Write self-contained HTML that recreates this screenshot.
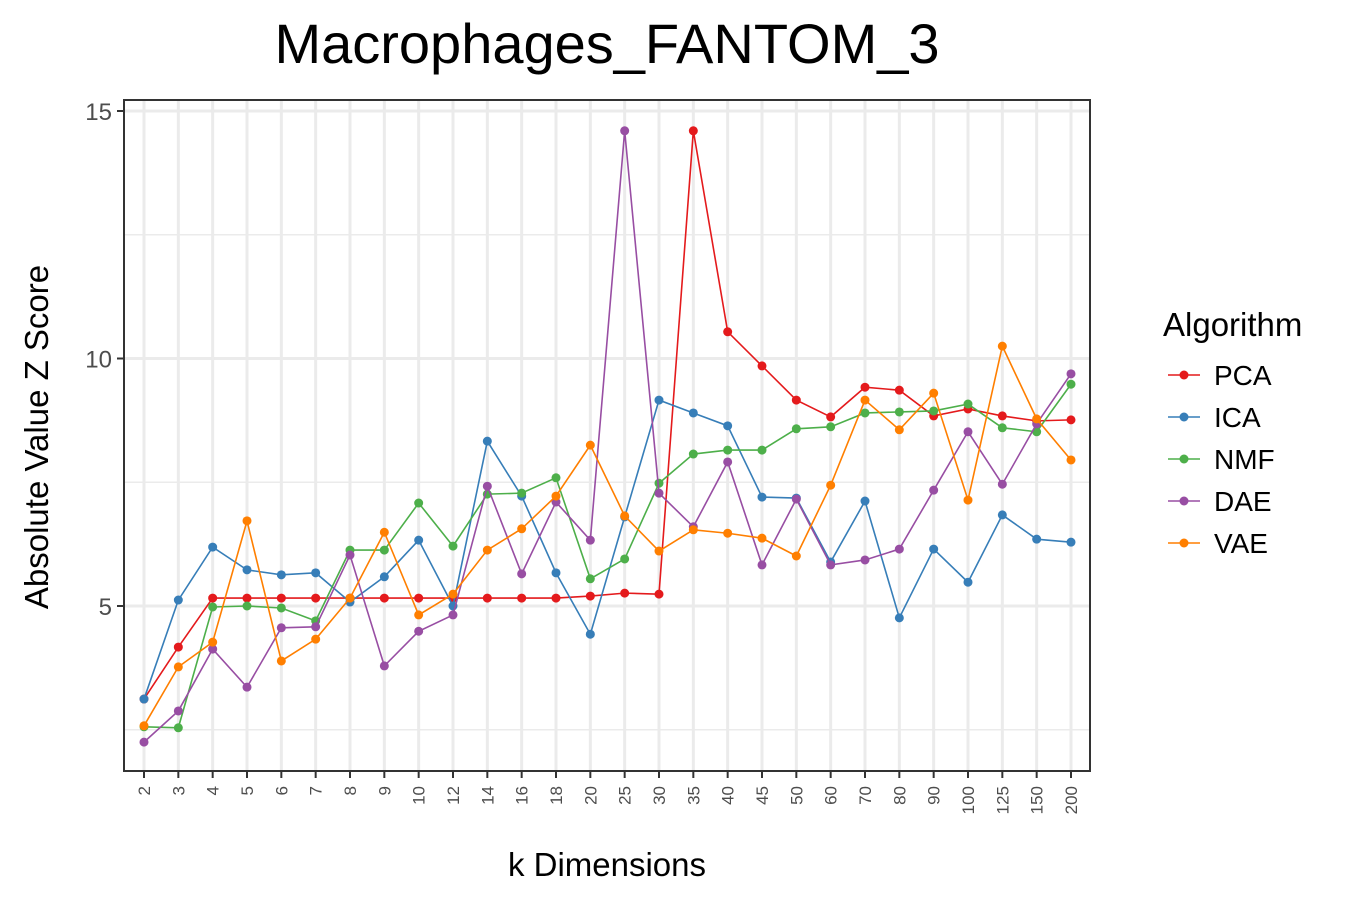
<!DOCTYPE html>
<html><head><meta charset="utf-8"><style>
body{margin:0;background:#fff;font-family:"Liberation Sans",Arial,sans-serif}
svg text{font-family:"Liberation Sans",Arial,sans-serif}
</style></head><body>
<svg id="chart" width="1350" height="900" viewBox="0 0 1350 900" xmlns="http://www.w3.org/2000/svg">
<rect width="1350" height="900" fill="#fff"/>
<text x="607" y="63" font-size="56" text-anchor="middle" fill="#000">Macrophages_FANTOM_3</text>
<g id="grid"></g>
<g id="series"></g>
<rect x="124" y="100" width="966" height="671" fill="none" stroke="#333" stroke-width="2"/>
<g id="axes"></g>
<text transform="translate(48,437) rotate(-90)" font-size="33" text-anchor="middle" fill="#000">Absolute Value Z Score</text>
<text x="607" y="876" font-size="33" text-anchor="middle" fill="#000">k Dimensions</text>
<g id="legend">
<text x="1163" y="336" font-size="33" fill="#000">Algorithm</text>
</g>
</svg>
<script>
const categories=["2","3","4","5","6","7","8","9","10","12","14","16","18","20","25","30","35","40","45","50","60","70","80","90","100","125","150","200"];
const pca=[3.12,4.17,5.16,5.16,5.16,5.16,5.16,5.16,5.16,5.16,5.16,5.16,5.16,5.2,5.26,5.24,14.6,10.54,9.85,9.16,8.82,9.42,9.36,8.84,8.98,8.84,8.74,8.76];
const ica=[3.12,5.12,6.19,5.73,5.63,5.67,5.08,5.59,6.33,5.0,8.33,7.22,5.67,4.43,6.8,9.16,8.9,8.64,7.2,7.18,5.89,7.12,4.76,6.15,5.48,6.84,6.35,6.29];
const nmf=[2.56,2.54,4.98,5.0,4.96,4.7,6.13,6.13,7.08,6.21,7.26,7.28,7.59,5.55,5.95,7.48,8.07,8.15,8.15,8.58,8.62,8.9,8.92,8.94,9.08,8.6,8.52,9.48];
const dae=[2.25,2.88,4.13,3.36,4.56,4.58,6.03,3.79,4.49,4.82,7.42,5.65,7.1,6.33,14.6,7.28,6.6,7.91,5.83,7.16,5.83,5.93,6.15,7.34,8.52,7.46,8.68,9.69];
const vae=[2.58,3.77,4.27,6.72,3.89,4.33,5.16,6.49,4.82,5.24,6.13,6.56,7.22,8.25,6.82,6.11,6.54,6.47,6.37,6.01,7.44,9.16,8.56,9.3,7.14,10.25,8.78,7.95];
const seriesNames=["PCA","ICA","NMF","DAE","VAE"];
const yMajor=[5,10,15];
const yMinor=[2.5,7.5,12.5];
const ns="http://www.w3.org/2000/svg";
const colors=["#e41a1c","#377eb8","#4daf4a","#984ea3","#ff7f00"];
const allSeries=[pca,ica,nmf,dae,vae];
const xS=i=>144+i*(1071-144)/(categories.length-1);
const yS=v=>606-(v-5)*49.5;
function mk(tag,attrs,parent){const e=document.createElementNS(ns,tag);for(const k in attrs)e.setAttribute(k,attrs[k]);parent.appendChild(e);return e;}
const grid=document.getElementById('grid'),ser=document.getElementById('series'),axes=document.getElementById('axes'),leg=document.getElementById('legend');
yMinor.forEach(v=>{const l=mk('line',{x1:124,x2:1090,y1:yS(v),y2:yS(v),stroke:'#ebebeb','stroke-width':1.5},grid);

});
yMajor.forEach(v=>{const l=mk('line',{x1:124,x2:1090,y1:yS(v),y2:yS(v),stroke:'#ebebeb','stroke-width':3},grid);


const t=mk('line',{x1:117,x2:124,y1:yS(v),y2:yS(v),stroke:'#333','stroke-width':2},axes);


const tx=mk('text',{x:112,y:yS(v)+9,'font-size':24,'text-anchor':'end',fill:'#4d4d4d'},axes);tx.textContent=v;

});
categories.forEach((c,i)=>{const x=xS(i);
const l=mk('line',{x1:x,x2:x,y1:100,y2:771,stroke:'#ebebeb','stroke-width':3},grid);


const t=mk('line',{x1:x,x2:x,y1:771,y2:778,stroke:'#333','stroke-width':2},axes);


const tx=mk('text',{transform:`translate(${x+6},786) rotate(-90)`,'font-size':17,'text-anchor':'end',fill:'#4d4d4d'},axes);tx.textContent=c;

});
allSeries.forEach((d,s)=>{const g=mk('g',{},ser);


mk('polyline',{points:d.map((v,i)=>xS(i)+','+yS(v)).join(' '),fill:'none',stroke:colors[s],'stroke-width':1.6},g);
d.forEach((v,i)=>{const c=mk('circle',{cx:xS(i),cy:yS(v),r:4.5,fill:colors[s]},g);

});
const y=375+s*42;
const lg=mk('g',{},leg);


mk('line',{x1:1168,x2:1200,y1:y,y2:y,stroke:colors[s],'stroke-width':1.6},lg);
mk('circle',{cx:1184,cy:y,r:4.5,fill:colors[s]},lg);
const tx=mk('text',{x:1214,y:y+10,'font-size':28,fill:'#000'},lg);tx.textContent=seriesNames[s];});
</script>
</body></html>
